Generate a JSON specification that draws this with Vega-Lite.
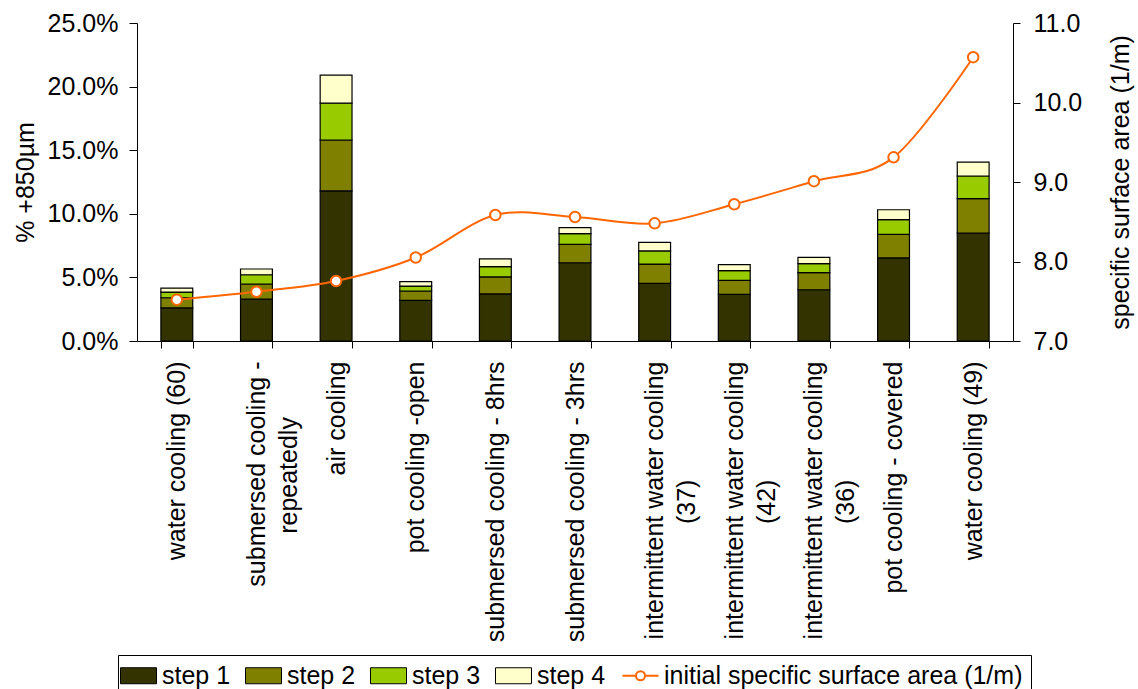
{
  "$schema": "https://vega.github.io/schema/vega-lite/v6.json",
  "width": 876,
  "height": 318,
  "autosize": {"type": "none"},
  "padding": {"left": 137, "top": 23, "right": 125, "bottom": 348},
  "config": {
    "font": "Liberation Sans",
    "view": {"stroke": null},
    "axis": {"labelFont": "Liberation Sans", "titleFont": "Liberation Sans", "labelFontSize": 25, "titleFontSize": 25, "titleFontWeight": "normal", "labelColor": "#000000", "titleColor": "#000000", "domainColor": "#000000", "tickColor": "#000000", "grid": false},
    "legend": {"labelFont": "Liberation Sans"}
  },
  "datasets": {
    "bars": [
      {"cat": "water cooling (60)", "step": "step 1", "v": 0.026},
      {"cat": "water cooling (60)", "step": "step 2", "v": 0.008},
      {"cat": "water cooling (60)", "step": "step 3", "v": 0.0045},
      {"cat": "water cooling (60)", "step": "step 4", "v": 0.003},
      {"cat": "submersed cooling -\nrepeatedly", "step": "step 1", "v": 0.033},
      {"cat": "submersed cooling -\nrepeatedly", "step": "step 2", "v": 0.0118},
      {"cat": "submersed cooling -\nrepeatedly", "step": "step 3", "v": 0.0073},
      {"cat": "submersed cooling -\nrepeatedly", "step": "step 4", "v": 0.0045},
      {"cat": "air cooling", "step": "step 1", "v": 0.118},
      {"cat": "air cooling", "step": "step 2", "v": 0.040},
      {"cat": "air cooling", "step": "step 3", "v": 0.029},
      {"cat": "air cooling", "step": "step 4", "v": 0.022},
      {"cat": "pot cooling -open", "step": "step 1", "v": 0.032},
      {"cat": "pot cooling -open", "step": "step 2", "v": 0.0073},
      {"cat": "pot cooling -open", "step": "step 3", "v": 0.0039},
      {"cat": "pot cooling -open", "step": "step 4", "v": 0.0034},
      {"cat": "submersed cooling - 8hrs", "step": "step 1", "v": 0.037},
      {"cat": "submersed cooling - 8hrs", "step": "step 2", "v": 0.0134},
      {"cat": "submersed cooling - 8hrs", "step": "step 3", "v": 0.0081},
      {"cat": "submersed cooling - 8hrs", "step": "step 4", "v": 0.0061},
      {"cat": "submersed cooling - 3hrs", "step": "step 1", "v": 0.0615},
      {"cat": "submersed cooling - 3hrs", "step": "step 2", "v": 0.0145},
      {"cat": "submersed cooling - 3hrs", "step": "step 3", "v": 0.0084},
      {"cat": "submersed cooling - 3hrs", "step": "step 4", "v": 0.0047},
      {"cat": "intermittent water cooling\n(37)", "step": "step 1", "v": 0.0453},
      {"cat": "intermittent water cooling\n(37)", "step": "step 2", "v": 0.0152},
      {"cat": "intermittent water cooling\n(37)", "step": "step 3", "v": 0.0103},
      {"cat": "intermittent water cooling\n(37)", "step": "step 4", "v": 0.0068},
      {"cat": "intermittent water cooling\n(42)", "step": "step 1", "v": 0.0367},
      {"cat": "intermittent water cooling\n(42)", "step": "step 2", "v": 0.011},
      {"cat": "intermittent water cooling\n(42)", "step": "step 3", "v": 0.0076},
      {"cat": "intermittent water cooling\n(42)", "step": "step 4", "v": 0.0047},
      {"cat": "intermittent water cooling\n(36)", "step": "step 1", "v": 0.0403},
      {"cat": "intermittent water cooling\n(36)", "step": "step 2", "v": 0.0134},
      {"cat": "intermittent water cooling\n(36)", "step": "step 3", "v": 0.0071},
      {"cat": "intermittent water cooling\n(36)", "step": "step 4", "v": 0.005},
      {"cat": "pot cooling - covered", "step": "step 1", "v": 0.0653},
      {"cat": "pot cooling - covered", "step": "step 2", "v": 0.0186},
      {"cat": "pot cooling - covered", "step": "step 3", "v": 0.0115},
      {"cat": "pot cooling - covered", "step": "step 4", "v": 0.0078},
      {"cat": "water cooling (49)", "step": "step 1", "v": 0.0849},
      {"cat": "water cooling (49)", "step": "step 2", "v": 0.027},
      {"cat": "water cooling (49)", "step": "step 3", "v": 0.0178},
      {"cat": "water cooling (49)", "step": "step 4", "v": 0.011}
    ],
    "ssa": [
      {"cat": "water cooling (60)", "ssa": 7.52},
      {"cat": "submersed cooling -\nrepeatedly", "ssa": 7.62},
      {"cat": "air cooling", "ssa": 7.755},
      {"cat": "pot cooling -open", "ssa": 8.05},
      {"cat": "submersed cooling - 8hrs", "ssa": 8.585},
      {"cat": "submersed cooling - 3hrs", "ssa": 8.56},
      {"cat": "intermittent water cooling\n(37)", "ssa": 8.48},
      {"cat": "intermittent water cooling\n(42)", "ssa": 8.72},
      {"cat": "intermittent water cooling\n(36)", "ssa": 9.01},
      {"cat": "pot cooling - covered", "ssa": 9.31},
      {"cat": "water cooling (49)", "ssa": 10.57}
    ]
  },
  "encoding": {
    "x": {
      "field": "cat",
      "type": "nominal",
      "sort": null,
      "title": null,
      "scale": {"paddingInner": 0.6, "paddingOuter": 0.3},
      "axis": {
        "labelAngle": -90,
        "labelExpr": "indexof(datum.label, '\\n') >= 0 ? [split(datum.label, '\\n')[0], split(datum.label, '\\n')[1] + (indexof(datum.label, 'intermittent') >= 0 ? '\u00a0\u00a0\u00a0\u00a0\u00a0\u00a0\u00a0\u00a0\u00a0\u00a0\u00a0\u00a0\u00a0\u00a0\u00a0\u00a0\u00a0' : '\u00a0\u00a0\u00a0\u00a0\u00a0\u00a0\u00a0\u00a0') + '\u200b'] : datum.label",
        "labelLineHeight": 32,
        "labelLimit": 400,
        "labelAlign": "right",
        "labelPadding": 13,
        "labelBaseline": "middle",
        "tickBand": "extent",
        "tickSize": 7,
        "domainWidth": 1,
        "labelOverlap": false
      }
    }
  },
  "layer": [
    {
      "data": {"name": "bars"},
      "mark": {"type": "bar", "stroke": "#000000", "strokeWidth": 1.2},
      "encoding": {
        "y": {
          "field": "v",
          "type": "quantitative",
          "stack": "zero",
          "scale": {"domain": [0, 0.25], "nice": false},
          "axis": {"title": "% +850µm", "format": ".1%", "values": [0, 0.05, 0.1, 0.15, 0.2, 0.25], "tickSize": 8, "labelPadding": 11, "titlePadding": 9, "orient": "left"}
        },
        "color": {
          "field": "step",
          "type": "nominal",
          "scale": {
            "domain": ["step 1", "step 2", "step 3", "step 4", "initial specific surface area (1/m)"],
            "range": ["#333300", "#808000", "#99CC00", "#FFFFCC", "#FFFFFF"]
          },
          "legend": {
            "title": null,
            "orient": "none",
            "legendX": -19,
            "legendY": 632,
            "direction": "horizontal",
            "columns": 5,
            "labelFontSize": 25,
            "labelColor": "#000000",
            "labelLimit": 500,
            "labelOffset": 11,
            "columnPadding": 12,
            "padding": 8,
            "strokeColor": "#000000",
            "symbolSize": 576,
            "symbolType": "M-1.5,-0.667H1.5V0.667H-1.5Z",
            "symbolStrokeWidth": 1,
            "symbolStrokeColor": "#000000",
            "encode": {
              "symbols": {
                "update": {
                  "shape": {"signal": "datum.value === 'initial specific surface area (1/m)' ? 'M-1.5,0H-0.375M0.375,0H1.5M0.375,0A0.375,0.375 0 1,1 -0.375,0A0.375,0.375 0 1,1 0.375,0' : 'M-1.5,-0.667H1.5V0.667H-1.5Z'"},
                  "stroke": {"signal": "datum.value === 'initial specific surface area (1/m)' ? '#FF6600' : '#000000'"},
                  "strokeWidth": {"signal": "datum.value === 'initial specific surface area (1/m)' ? 2 : 1"},
                  "opacity": {"value": 1},
                  "fillOpacity": {"value": 1}
                }
              }
            }
          }
        },
        "order": {"field": "step", "sort": "ascending"}
      }
    },
    {
      "data": {"name": "ssa"},
      "mark": {"type": "line", "color": "#FF6600", "strokeWidth": 2, "interpolate": "cardinal"},
      "encoding": {
        "y": {
          "field": "ssa",
          "type": "quantitative",
          "scale": {"domain": [7, 11], "nice": false, "zero": false},
          "axis": {"title": "specific surface area (1/m)", "format": ".1f", "values": [7, 8, 9, 10, 11], "tickSize": 7, "labelPadding": 13, "titlePadding": 52, "titleAngle": 270, "orient": "right"}
        }
      }
    },
    {
      "data": {"name": "ssa"},
      "mark": {"type": "point", "filled": true, "fill": "#FFFFFF", "stroke": "#FF6600", "strokeWidth": 2, "size": 110, "shape": "circle", "opacity": 1},
      "encoding": {
        "y": {"field": "ssa", "type": "quantitative", "scale": {"domain": [7, 11], "nice": false, "zero": false}, "axis": null}
      }
    }
  ],
  "resolve": {"scale": {"y": "independent"}}
}
